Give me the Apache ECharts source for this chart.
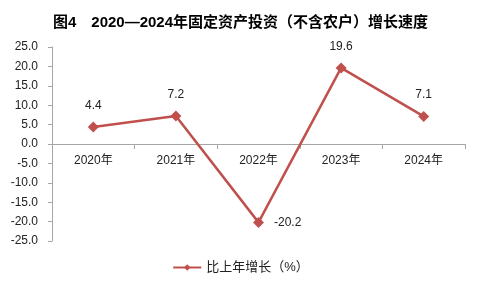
<!DOCTYPE html>
<html>
<head>
<meta charset="utf-8">
<script src="https://cdn.jsdelivr.net/npm/echarts@6/dist/echarts.min.js"></script>
<style>
  html, body { margin: 0; padding: 0; background: #fff; }
  #main { width: 481px; height: 288px; }
</style>
</head>
<body>
<div id="main"></div>
<script>
// 年份
var years = ['2020年', '2021年', '2022年', '2023年', '2024年'];
// 比上年增长（%）
var growth = [4.4, 7.2, -20.2, 19.6, 7.1];
// 数据标签位置
var labelPos = ['top', 'top', 'right', 'top', 'top'];

var chart = echarts.init(document.getElementById('main'));
var font = '"Liberation Sans", "Noto Sans CJK SC", sans-serif';

// 网格高度 288-47-47=194，零线在中间，x轴上移 97px
var option = {
  backgroundColor: '#ffffff',
  animation: false,
  title: {
    text: '图4　2020—2024年固定资产投资（不含农户）增长速度',
    left: 'center',
    top: 10,
    textStyle: { fontSize: 15, fontWeight: 'bold', color: '#000', fontFamily: font }
  },
  legend: {
    bottom: 9,
    left: 'center',
    itemWidth: 28,
    itemHeight: 8,
    itemGap: 4,
    textStyle: { fontSize: 13, color: '#222', fontFamily: font },
    data: ['比上年增长（%）']
  },
  grid: { left: 52, right: 16, top: 47, bottom: 47 },
  xAxis: {
    type: 'category',
    data: years,
    boundaryGap: true,
    offset: -97,
    axisLine: { onZero: false, lineStyle: { color: '#a6a6a6', width: 1 } },
    axisTick: { show: true, inside: false, length: 5, lineStyle: { color: '#a6a6a6' } },
    axisLabel: { fontSize: 12, color: '#222', margin: 11, fontFamily: font },
    splitLine: { show: false }
  },
  yAxis: {
    type: 'value',
    min: -25,
    max: 25,
    interval: 5,
    axisLine: { show: true, lineStyle: { color: '#a6a6a6', width: 1 } },
    axisTick: { show: true, length: 4, lineStyle: { color: '#a6a6a6' } },
    axisLabel: {
      fontSize: 12, color: '#222', margin: 14, fontFamily: font,
      formatter: function (v) { return v.toFixed(1); }
    },
    splitLine: { show: false }
  },
  series: [{
    name: '比上年增长（%）',
    type: 'line',
    data: growth.map(function (v, i) {
      return { value: v, label: { position: labelPos[i] } };
    }),
    symbol: 'diamond',
    symbolSize: 11,
    lineStyle: { color: '#C0504D', width: 2.5 },
    itemStyle: { color: '#C0504D' },
    label: {
      show: true,
      distance: 10,
      fontSize: 12,
      color: '#222',
      fontFamily: font,
      formatter: function (p) { return p.value.toFixed(1); }
    }
  }]
};
chart.setOption(option);
</script>
</body>
</html>
